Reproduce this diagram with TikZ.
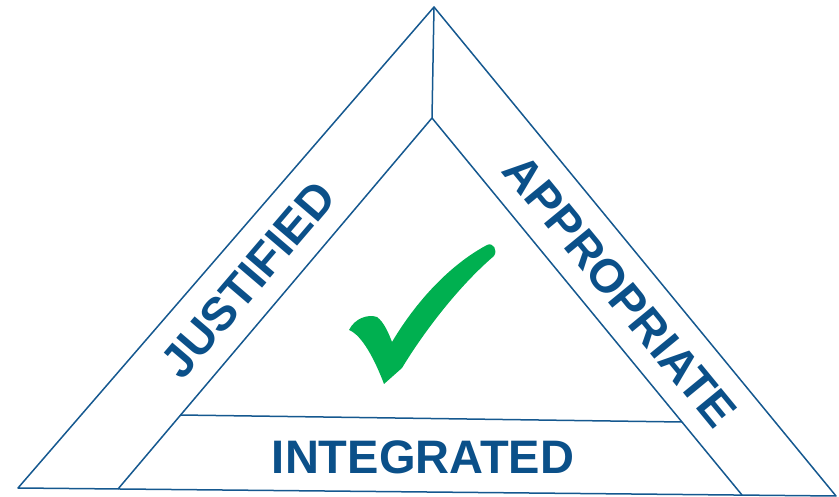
\documentclass[tikz,border=0pt]{standalone}
\usepackage{fontspec}
\setmainfont{Liberation Sans}
\definecolor{linecol}{HTML}{15588F}
\definecolor{textcol}{HTML}{0B5089}
\definecolor{tickgreen}{HTML}{00B050}
\tikzset{
  edge/.style={draw=linecol, line width=1.5pt, line join=round},
  label/.style={text=textcol, font=\fontsize{47}{47}\selectfont\bfseries, inner sep=0pt, anchor=center}
}
\begin{document}
\begin{tikzpicture}[x=1pt,y=-1pt]
\useasboundingbox (0,0) rectangle (839,497);
% vertices
\coordinate (top) at (434,7);
\coordinate (bl) at (18,488);
\coordinate (br) at (836,496);
\coordinate (itop) at (432,118);
\coordinate (ibl) at (180,415);
\coordinate (ibr) at (682,422);
\coordinate (bl2) at (118,489);
\coordinate (br2) at (742,495);
% outer triangle
\draw[edge] (top) -- (bl) -- (br) -- cycle;
\draw[edge] (top) -- (itop);
\draw[edge] (itop) -- (bl2);
\draw[edge] (itop) -- (br2);
\draw[edge] (ibl) -- (ibr);
% labels
\node[label, rotate=49.5] (just) at (248,280) {JUSTIFIED};
\node[label, rotate=-50.6] (appr) at (620,291) {APPROPRIATE};
\node[label] (integ) at (423,457) {INTEGRATED};
% check mark
\fill[tickgreen] (349,330)
  .. controls (355,318) and (368,314) .. (377,317)
  .. controls (384,322) and (389,334) .. (392,342)
  .. controls (420,295) and (455,262) .. (487,245)
  .. controls (493,242) and (498,250) .. (494,256)
  .. controls (460,285) and (425,330) .. (402,368)
  -- (384,384)
  .. controls (375,360) and (362,335) .. (349,330) -- cycle;
\end{tikzpicture}
\end{document}
